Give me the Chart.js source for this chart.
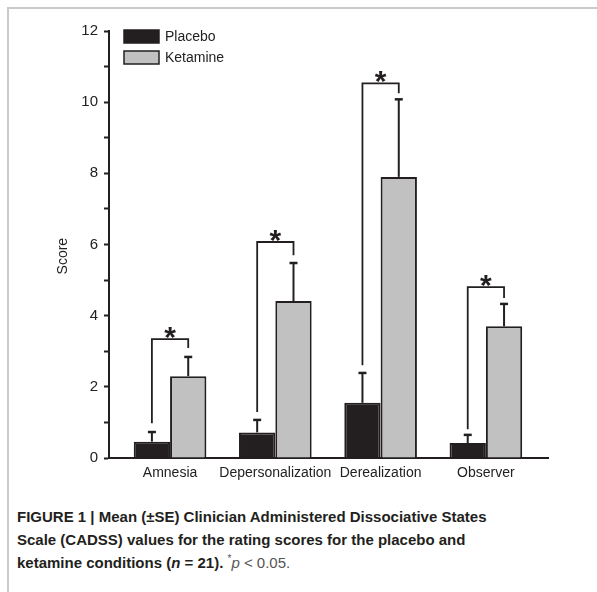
<!DOCTYPE html>
<html>
<head>
<meta charset="utf-8">
<script src="https://cdn.jsdelivr.net/npm/chart.js@4"></script>
<style>
html, body { margin:0; padding:0; background:#fff; width:597px; height:592px; overflow:hidden; font-family:"Liberation Sans", Arial, sans-serif; }
#frame { position:absolute; left:7px; top:7px; width:620px; height:620px; border-top:2px solid #cacaca; border-left:2px solid #cacaca; }
#wrap { position:absolute; left:0; top:0; width:597px; height:490px; }
#caption { position:absolute; left:17px; top:505px; width:575px; font-size:15px; line-height:23px; font-weight:bold; color:#231f20; }
#caption .note { font-weight:normal; color:#555; }
#caption sup { font-size:10px; line-height:0; vertical-align:0; position:relative; top:-6px; }
</style>
</head>
<body>
<div id="frame"></div>
<div id="wrap"><canvas id="chart"></canvas></div>
<div id="caption">FIGURE 1 | Mean (±SE) Clinician Administered Dissociative States<br>Scale (CADSS) values for the rating scores for the placebo and<br>ketamine conditions (<i>n</i> = 21). <span class="note"><sup>*</sup><i>p</i> &lt; 0.05.</span></div>
<script>
// CADSS subscale scores, placebo vs ketamine

const categories = ['Amnesia', 'Depersonalization', 'Derealization', 'Observer'];
const placebo = [0.46, 0.72, 1.55, 0.42];
const placeboSE = [0.27, 0.35, 0.84, 0.23];
const ketamine = [2.30, 4.41, 7.90, 3.70];
const ketamineSE = [0.54, 1.07, 2.18, 0.63];

// significance brackets (score units): top, left leg end, right leg end
const bracketTop = [3.34, 6.07, 10.53, 4.80];
const bracketLeft = [0.98, 1.29, 2.61, 0.81];
const bracketRight = [3.09, 5.70, 10.25, 4.50];

const ink = '#231f20';
const colors = ['#231f20', '#c1c1c1'];

Chart.defaults.font.family = '"Liberation Sans", Arial, sans-serif';

const extras = {
  id: 'extras',
  afterDatasetsDraw(chart){
    const ctx = chart.ctx;
    const y = chart.scales.y;
    const m0 = chart.getDatasetMeta(0), m1 = chart.getDatasetMeta(1);
    ctx.save();
    ctx.strokeStyle = ink;
    ctx.fillStyle = ink;

    // error bars, upper half only
    [[m0, placebo, placeboSE], [m1, ketamine, ketamineSE]].forEach(([meta, vals, se])=>{
      meta.data.forEach((bar, i)=>{
        const yTop = y.getPixelForValue(vals[i] + se[i]);
        ctx.lineWidth = 2;
        ctx.beginPath();
        ctx.moveTo(bar.x, bar.y); ctx.lineTo(bar.x, yTop);
        ctx.stroke();
        ctx.lineWidth = 2.5;
        ctx.beginPath();
        ctx.moveTo(bar.x - 4, yTop); ctx.lineTo(bar.x + 4, yTop);
        ctx.stroke();
      });
    });

    // brackets + stars
    ctx.lineWidth = 1.8;
    ctx.font = 'bold 30px "Liberation Sans", Arial, sans-serif';
    ctx.textAlign = 'center';
    ctx.textBaseline = 'alphabetic';
    categories.forEach((c, i)=>{
      const xl = m0.data[i].x, xr = m1.data[i].x;
      const yt = y.getPixelForValue(bracketTop[i]);
      ctx.beginPath();
      ctx.moveTo(xl, y.getPixelForValue(bracketLeft[i]));
      ctx.lineTo(xl, yt);
      ctx.lineTo(xr, yt);
      ctx.lineTo(xr, y.getPixelForValue(bracketRight[i]));
      ctx.stroke();
      ctx.fillText('*', (xl + xr) / 2, yt + 8);
    });

    // legend, top left inside the plot
    const area = chart.chartArea;
    ctx.font = '14px "Liberation Sans", Arial, sans-serif';
    ctx.textAlign = 'left';
    ctx.textBaseline = 'middle';
    ctx.lineWidth = 1.5;
    chart.data.datasets.forEach((ds, i)=>{
      const bx = area.left + 15, by = area.top - 1 + i * 21;
      ctx.fillStyle = ds.backgroundColor;
      ctx.fillRect(bx, by, 35, 13);
      ctx.strokeRect(bx, by, 35, 13);
      ctx.fillStyle = '#222';
      ctx.fillText(ds.label, bx + 41, by + 7);
    });
    ctx.restore();
  }
};

new Chart(document.getElementById('chart'), {
  type: 'bar',
  data: {
    datasets: [
      { label: 'Placebo', data: placebo.map((v, i)=>({x: i, y: v})), backgroundColor: colors[0], borderColor: ink, borderWidth: 2 },
      { label: 'Ketamine', data: ketamine.map((v, i)=>({x: i, y: v})), backgroundColor: colors[1], borderColor: ink, borderWidth: 2 }
    ]
  },
  options: {
    responsive: true,
    maintainAspectRatio: false,
    animation: false,
    layout: { padding: { left: 48, right: 49, top: 31, bottom: 2 } },
    datasets: { bar: { categoryPercentage: 0.69, barPercentage: 1 } },
    plugins: { legend: { display: false }, tooltip: { enabled: false } },
    scales: {
      x: {
        type: 'linear', min: -0.58, max: 3.59, offset: false,
        afterBuildTicks: s => { s.ticks = categories.map((c, i)=>({value: i})); },
        afterFit: s => { s.height = 30; },
        ticks: { callback: v => categories[v], font: { size: 14 }, color: '#222', padding: 7, autoSkip: false, maxRotation: 0 },
        grid: { display: false, drawTicks: false },
        border: { color: ink, width: 2 }
      },
      y: {
        min: 0, max: 12,
        afterFit: s => { s.width = 61; },
        ticks: { stepSize: 1, callback: v => (v % 2 === 0 ? v : ''), font: { size: 15 }, color: '#222', padding: 6 },
        grid: { drawOnChartArea: false, tickLength: 5, color: ink, tickWidth: 2 },
        border: { color: ink, width: 2 },
        title: { display: true, text: 'Score      ', font: { size: 14 }, color: '#222', padding: { top: 7, bottom: 0 } }
      }
    }
  },
  plugins: [extras]
});
</script>
</body>
</html>
